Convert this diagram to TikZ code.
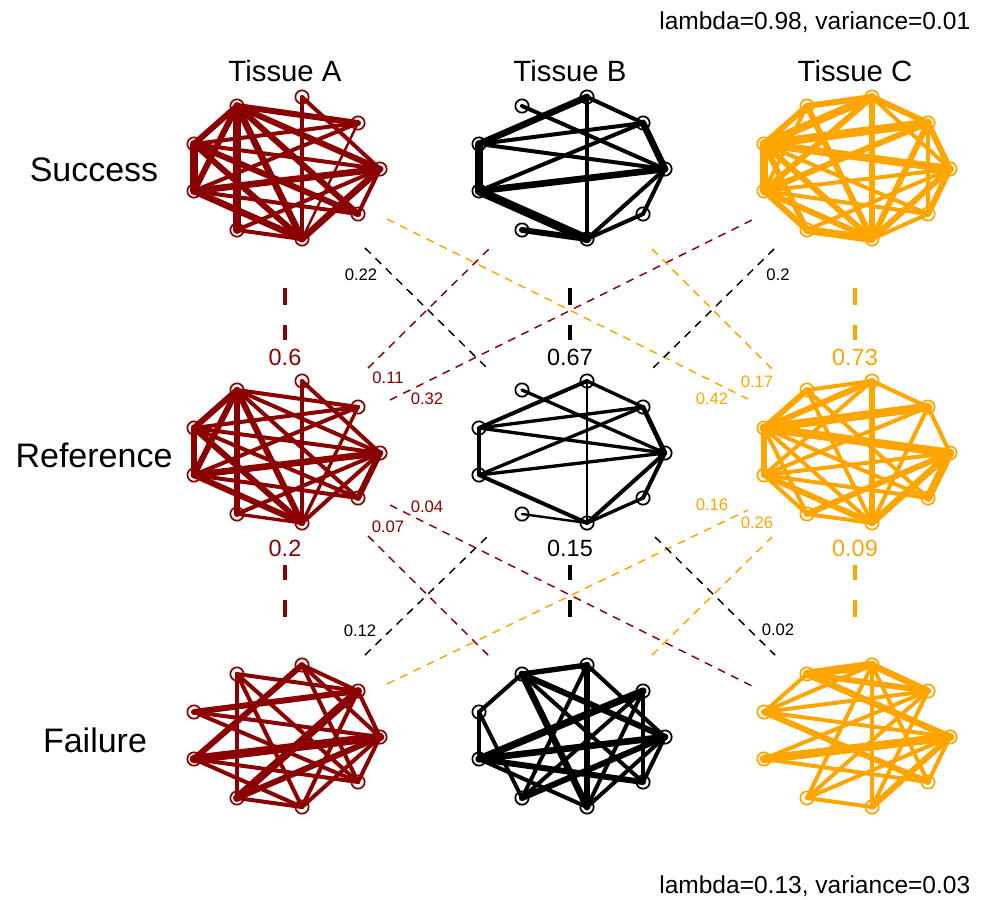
\documentclass[tikz,border=0pt]{standalone}
\usepackage{fontspec}
\setmainfont{Liberation Sans}
\usetikzlibrary{positioning}
\usepackage{xcolor}

\definecolor{tisA}{HTML}{8B0000}
\definecolor{tisB}{HTML}{000000}
\definecolor{tisC}{HTML}{FFA500}

\pgfdeclarelayer{bg}
\pgfsetlayers{bg,main}

\newcommand{\setfs}[1]{\fontsize{#1}{#1}\selectfont}

% nodes of one network: prefix, dx, dy, colour
\newcommand{\netnodes}[4]{%
  \foreach \n/\x/\y in {a/237/106, b/302/97, c/358/123, d/380/169, e/358/214,
                        f/302/239, g/237/230, h/194/191, i/194/144}
    \node[vtx, draw=#4] (#1\n) at (\x+#2,\y+#3) {};
}
% edges of one network: prefix, colour, list from/to/width(px)
\newcommand{\netedges}[3]{%
  \begin{pgfonlayer}{bg}
  \foreach \u/\v/\w in {#3}
    \draw[edge, #2, line width=\w*1.0pt] (#1\u.center) -- (#1\v.center);
  \end{pgfonlayer}
}

\begin{document}
\begin{tikzpicture}[
        x=0.75pt, y=-0.75pt,
        % network vertices and edges
        vtx/.style={circle, line width=1.3pt, minimum size=10pt, inner sep=0pt},
        edge/.style={line cap=round},
        % thin dashed links between tissues
        link/.style={dash pattern=on 6pt off 5pt, line width=1.1pt},
        % thick dashed links inside one tissue
        gap/.style={dash pattern=on 13pt off 15pt, line width=3pt},
        wt/.style={font=\setfs{12.5}},
        corr/.style={font=\setfs{17.6}},
        rowlab/.style={font=\setfs{25.5}},
        collab/.style={font=\setfs{22}},
        info/.style={font=\setfs{18.4}}
    ]
    \useasboundingbox (0,0) rectangle (981,899);

    % --- TITLES ---
    \node[info, anchor=base east] (topinfo) at (975,30) {lambda=0.98, variance=0.01};
    \node[info, anchor=base east] (botinfo) at (975,893) {lambda=0.13, variance=0.03};
    \node[collab] (colA) at (285,71) {Tissue A};
    \node[collab] (colB) at (570,71) {Tissue B};
    \node[collab] (colC) at (855,71) {Tissue C};
    \node[rowlab] (rowS) at (94,170) {Success};
    \node[rowlab] (rowR) at (94,455) {Reference};
    \node[rowlab] (rowF) at (95,740) {Failure};

    % --- NETWORKS ---
    \netnodes{AS}{0}{0}{tisA}
    \netnodes{AR}{0}{284}{tisA}
    \netnodes{AF}{0}{568}{tisA}
    \netnodes{BS}{285}{0}{tisB}
    \netnodes{BR}{285}{284}{tisB}
    \netnodes{BF}{285}{568}{tisB}
    \netnodes{CS}{570}{0}{tisC}
    \netnodes{CR}{570}{284}{tisC}
    \netnodes{CF}{570}{568}{tisC}

    \netedges{AS}{tisA}{a/c/4.5, a/d/4.5, a/e/4.5, a/f/5, a/g/6, a/h/4.5, a/i/4.5,
        b/f/3, b/d/3, c/f/1.8, c/i/3, c/h/3, d/i/3, d/h/5, e/i/4.5, e/h/3,
        f/i/4.5, f/h/5, f/g/3, f/d/5, d/e/3, g/d/3, h/i/6}
    \netedges{AR}{tisA}{a/c/3, a/d/3, a/e/3, a/f/4.5, a/g/4.5, a/h/4.5, a/i/4.5,
        b/f/3, b/d/3, c/f/2.5, c/i/3, c/h/3, d/i/3, d/h/5, e/i/3, e/h/3,
        f/i/4.5, f/h/4.5, f/g/2.5, f/d/3, d/e/4.5, g/d/3, h/i/5}
    \netedges{AF}{tisA}{a/c/3, a/g/3, a/e/3, a/f/3, b/h/4.5, b/c/3, b/e/3, b/d/3,
        i/c/4.5, i/d/3, i/e/3, h/d/6.5, h/f/3, h/e/3, g/c/6, g/d/4.5, g/f/3,
        f/c/3, f/d/3, e/d/3, c/d/3}
    \netedges{BS}{tisB}{a/d/3, b/i/5, b/f/3, b/c/3, c/i/3, c/h/3, c/d/5, d/i/3,
        d/h/5, h/i/6, h/f/6.5, g/f/4.5, f/d/3, f/e/3, e/d/3}
    \netedges{BR}{tisB}{a/d/2.5, b/i/3, b/f/2.2, b/c/2.5, c/i/2.5, c/h/2.5, c/d/3.5,
        d/i/2.5, d/h/2.5, h/i/2.5, h/f/3, g/f/1.8, f/d/3, f/e/2.5, e/d/3}
    \netedges{BF}{tisB}{a/b/4, a/i/3, a/d/4.5, a/e/3, a/f/5, b/f/5, b/g/3, b/d/3,
        c/h/5.5, c/g/3, c/e/3, c/f/3, i/h/3, i/g/3, h/d/5, h/e/4.5, h/f/3,
        g/d/4.5, f/d/3, d/e/3}
    \netedges{CS}{tisC}{a/b/4.5, a/i/4.5, a/f/4.5, a/h/3, b/c/4.5, b/i/6, b/h/4.5,
        b/f/4.5, b/d/3, c/d/4.5, c/i/6.5, c/h/4.5, c/f/4.5, c/e/3, d/i/6,
        d/f/4.5, d/e/4.5, d/h/3, e/h/3, e/i/3, f/i/4.5, f/h/4.5, g/i/4.5,
        g/h/4.5, g/f/6, g/d/3, h/i/6.5, e/f/3}
    \netedges{CR}{tisC}{a/b/3, a/i/4.5, a/f/3, a/e/3, b/c/3, b/i/4.5, b/f/4.5, b/h/3,
        c/i/6.5, c/d/3, c/h/3, c/f/3, d/i/6.5, d/f/5, d/e/6, d/h/3, e/h/3,
        e/i/3, f/i/3, f/h/4.5, g/i/3, g/h/3, g/f/3, g/d/4.5, h/i/4.5}
    \netedges{CF}{tisC}{a/b/6.5, a/c/4.5, a/d/5, a/i/3, b/c/5, b/i/3, b/f/3, b/g/3,
        b/e/3, c/i/3, c/f/3, c/g/3, i/d/3, i/e/4.5, h/d/6.5, h/e/3, h/c/3,
        g/f/3, g/d/3, f/d/4.5, e/d/3}

    % --- LINKS INSIDE ONE TISSUE ---
    \foreach \t/\x/\col in {A/285/tisA, B/570/tisB, C/855/tisC} {
        \coordinate (\t-up1) at (\x,288);
        \coordinate (\t-up2) at (\x,340);
        \coordinate (\t-lo1) at (\x,617);
        \coordinate (\t-lo2) at (\x,565);
        \draw[gap, \col] (\t-up1) -- (\t-up2);
        \draw[gap, \col] (\t-lo1) -- (\t-lo2);
    }
    \node[corr, tisA] (rA1) at (285,357) {0.6};
    \node[corr, tisB] (rB1) at (570,357) {0.67};
    \node[corr, tisC] (rC1) at (855,357) {0.73};
    \node[corr, tisA] (rA2) at (285,548) {0.2};
    \node[corr, tisB] (rB2) at (570,548) {0.15};
    \node[corr, tisC] (rC2) at (855,548) {0.09};

    % --- LINKS BETWEEN TISSUES ---
    \foreach \k/\xa/\ya/\xb/\yb/\col in {
        22/365/248/487/368/tisB, 11/368/368/490/248/tisA,
        32/390/400/752/220/tisA, 42/387/219/748/399/tisC,
        17/652/249/772/369/tisC, 20/774/249/653/368/tisB,
        07/368/536/488/655/tisA, 04/390/505/752/686/tisA,
        12/365/655/487/537/tisB, 16/387/684/748/510/tisC,
        26/652/655/772/537/tisC, 02/655/537/775/655/tisB} {
        \coordinate (k\k s) at (\xa,\ya);
        \coordinate (k\k e) at (\xb,\yb);
        \draw[link, \col] (k\k s) -- (k\k e);
    }
    \node[wt, tisB] (w22) at (361,275) {0.22};
    \node[wt, tisA] (w11) at (388,378) {0.11};
    \node[wt, tisA] (w32) at (427,399) {0.32};
    \node[wt, tisC] (w42) at (712,399) {0.42};
    \node[wt, tisC] (w17) at (757,382) {0.17};
    \node[wt, tisB] (w20) at (778,275) {0.2};
    \node[wt, tisA] (w04) at (427,507) {0.04};
    \node[wt, tisA] (w07) at (388,527) {0.07};
    \node[wt, tisB] (w12) at (360,631) {0.12};
    \node[wt, tisC] (w16) at (712,505) {0.16};
    \node[wt, tisC] (w26) at (757,523) {0.26};
    \node[wt, tisB] (w02) at (778,630) {0.02};

\end{tikzpicture}
\end{document}
